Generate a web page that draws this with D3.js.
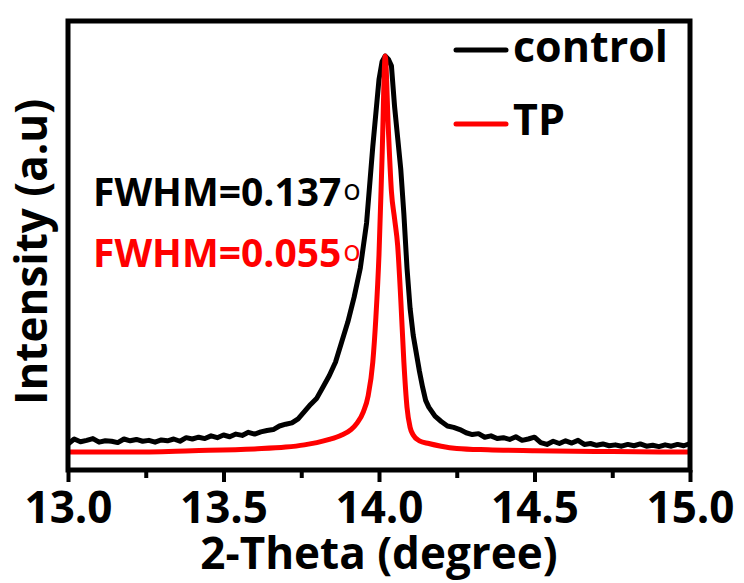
<!DOCTYPE html>
<html>
<head>
<meta charset="utf-8">
<script src="https://cdn.jsdelivr.net/npm/d3@7"></script>
<style>
  body { margin: 0; background: #fff; }
  text { font-family: "Open Sans", sans-serif; font-weight: 700; }
</style>
</head>
<body>
<div id="chart"></div>
<script>
// tick values
var majorTicks = [13.0, 13.5, 14.0, 14.5, 15.0];
var minorTicks = [13.25, 13.75, 14.25, 14.75];

// control (black)
var controlX = [13.00,13.02,13.04,13.06,13.08,13.10,13.12,13.14,13.16,13.18,13.20,13.22,13.24,13.26,13.28,13.30,13.32,13.34,13.36,13.38,
  13.40,13.42,13.44,13.46,13.48,13.50,13.52,13.54,13.56,13.58,13.60,13.62,13.64,13.66,13.68,13.70,13.72,13.74,13.76,13.78,
  13.80,13.82,13.84,13.86,13.88,13.90,13.92,13.94,13.96,13.98,14.00,14.01,14.02,14.03,14.04,14.05,14.06,14.07,14.08,14.09,
  14.10,14.11,14.12,14.13,14.14,14.15,14.16,14.18,14.20,14.22,14.24,14.26,14.28,14.30,14.32,14.34,14.36,14.38,14.40,14.42,
  14.44,14.46,14.48,14.50,14.52,14.54,14.56,14.58,14.60,14.62,14.64,14.66,14.68,14.70,14.72,14.74,14.76,14.78,14.80,14.82,
  14.84,14.86,14.88,14.90,14.92,14.94,14.96,14.98,15.00];
var controlY = [5.8,6.9,6.3,6.6,7.0,6.2,6.5,6.4,6.1,6.9,6.5,6.8,6.4,6.6,6.2,6.7,6.5,6.9,6.4,7.2,
  6.9,7.3,7.0,7.6,7.2,7.8,7.4,8.0,7.7,8.4,8.0,8.5,8.8,9.0,9.8,10.2,10.5,11.4,13.0,14.6,
  16.0,18.5,21.0,24.0,28.5,33.0,38.5,45.0,55.0,72.0,87.0,91.0,92.2,91.5,90.0,81.0,74.0,67.0,57.0,45.0,
  36.0,30.0,26.0,22.0,18.5,15.5,14.0,12.0,10.8,9.8,9.5,9.0,8.3,7.9,8.1,7.3,7.6,7.0,7.2,6.8,
  7.4,6.6,6.9,7.3,6.1,5.7,6.4,5.9,6.5,6.0,6.6,5.7,5.9,5.5,5.8,5.4,5.6,5.3,5.7,5.4,
  5.8,5.3,5.5,5.2,5.6,5.3,5.7,5.4,5.9];

// TP (red)
var tpX = [13.00,13.20,13.40,13.60,13.70,13.76,13.80,13.84,13.88,13.91,13.93,13.95,13.965,13.98,13.99,14.00,14.01,14.02,
  14.03,14.04,14.05,14.06,14.07,14.08,14.09,14.10,14.11,14.13,14.16,14.20,14.25,14.35,14.50,14.75,15.00];
var tpY = [4.0,4.0,4.3,4.7,5.1,5.6,6.1,6.8,7.8,9.0,10.5,13.0,16.5,24.0,34.0,48.0,70.0,92.2,
  76.0,62.0,56.0,50.0,38.0,24.0,14.0,9.5,7.8,6.5,5.9,5.3,4.8,4.5,4.3,4.1,4.0];

var legendNames = ["control", "TP"];
var seriesColors = ["#000000", "#ff0000"];
var fwhmLabels = ["FWHM=0.137", "FWHM=0.055"];

var margin = {top: 21, right: 54, bottom: 113, left: 68},
  width = 744 - margin.left - margin.right,
  height = 583 - margin.top - margin.bottom;

var svg = d3.select("#chart")
  .append("svg")
  .attr("width", 744)
  .attr("height", 583)
  .append("g")
  .attr("transform", "translate(" + margin.left + "," + margin.top + ")");

var x = d3.scaleLinear().domain([13, 15]).range([0, width]);
var y = d3.scaleLinear().domain([0, 100]).range([height, 0]);

// curves
var series = [
  {name: "control", pts: controlX.map(function(v, i) { return [v, controlY[i]]; }), curve: d3.curveLinear},
  {name: "TP", pts: tpX.map(function(v, i) { return [v, tpY[i]]; }), curve: d3.curveMonotoneX}
];

series.forEach(function(s, i) {
  var line = d3.line()
    .x(function(d) { return x(d[0]); })
    .y(function(d) { return y(d[1]); })
    .curve(s.curve);
  svg.append("path")
    .attr("d", line(s.pts))
    .attr("fill", "none")
    .attr("stroke", seriesColors[i])
    .attr("stroke-width", 5)
    .attr("stroke-linejoin", "round");
});

// frame
svg.append("rect")
  .attr("x", 0).attr("y", 0)
  .attr("width", width).attr("height", height)
  .attr("fill", "none")
  .attr("stroke", "#000")
  .attr("stroke-width", 5);

// x axis: major + minor ticks
var xAxis = svg.append("g")
  .attr("transform", "translate(0," + height + ")")
  .call(d3.axisBottom(x).tickValues(majorTicks).tickSize(12).tickPadding(10).tickFormat(d3.format(".1f")));
xAxis.select(".domain").remove();
xAxis.selectAll("line").attr("stroke-width", 4);
xAxis.selectAll("text")
  .attr("fill", "#000")
  .style("font-size", "44px")
  .attr("dy", "0.71em");

var xMinor = svg.append("g")
  .attr("transform", "translate(0," + height + ")")
  .call(d3.axisBottom(x).tickValues(minorTicks).tickSize(8).tickFormat(""));
xMinor.select(".domain").remove();
xMinor.selectAll("line").attr("stroke-width", 4);

// axis titles
svg.append("text")
  .attr("x", width / 2)
  .attr("y", 569 - margin.top)
  .attr("text-anchor", "middle")
  .style("font-size", "44px")
  .text("2-Theta (degree)");

svg.append("text")
  .attr("transform", "translate(" + (47 - margin.left) + "," + (252 - margin.top) + ") rotate(-90)")
  .attr("text-anchor", "middle")
  .style("font-size", "44px")
  .text("Intensity (a.u)");

// legend
var legY = [50, 124], legTextY = [62, 135];
legendNames.forEach(function(n, i) {
  svg.append("line")
    .attr("x1", 456 - margin.left).attr("x2", 506 - margin.left)
    .attr("y1", legY[i] - margin.top).attr("y2", legY[i] - margin.top)
    .attr("stroke", seriesColors[i])
    .attr("stroke-width", 5)
    .attr("stroke-linecap", "round");
  svg.append("text")
    .attr("x", 513 - margin.left)
    .attr("y", legTextY[i] - margin.top)
    .style("font-size", "43px")
    .text(n);
});

// FWHM notes
var noteY = [206, 267];
fwhmLabels.forEach(function(t, i) {
  var tx = svg.append("text")
    .attr("x", 93 - margin.left)
    .attr("y", noteY[i] - margin.top)
    .attr("fill", seriesColors[i])
    .style("font-size", "39px")
    .text(t);
  tx.append("tspan")
    .attr("dy", -6)
    .attr("dx", 2)
    .style("font-size", "29px")
    .style("font-weight", 400)
    .text("o");
});
</script>
</body>
</html>
